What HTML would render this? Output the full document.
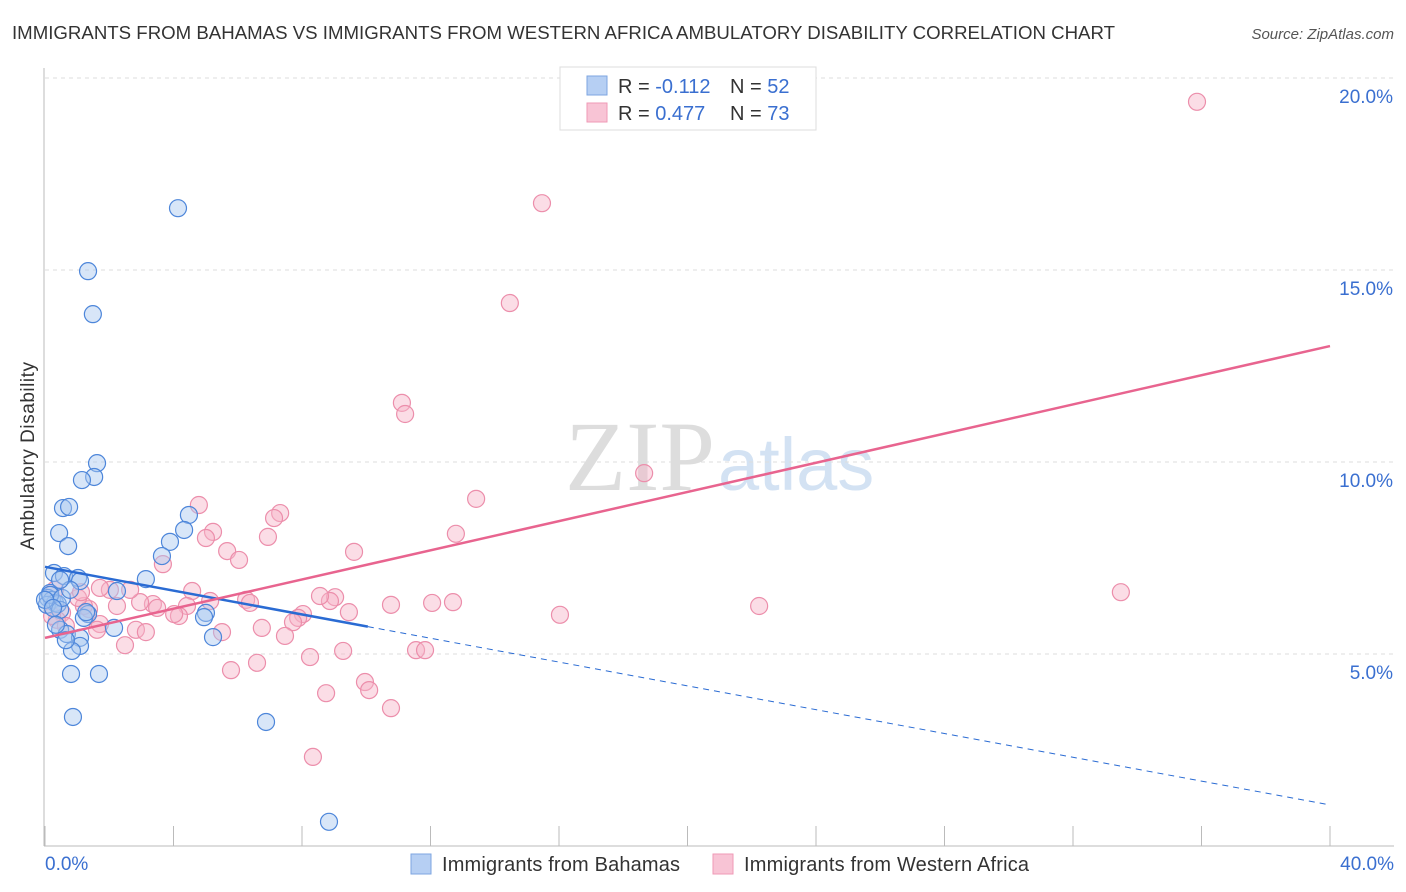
<!DOCTYPE html>
<html><head><meta charset="utf-8"><style>
body{margin:0;background:#fff;font-family:"Liberation Sans",sans-serif}
svg{display:block}
</style></head><body>
<svg id="chart" width="1406" height="892" xmlns="http://www.w3.org/2000/svg">
<text x="12" y="39" font-size="18" fill="#333" textLength="1103" lengthAdjust="spacingAndGlyphs">IMMIGRANTS FROM BAHAMAS VS IMMIGRANTS FROM WESTERN AFRICA AMBULATORY DISABILITY CORRELATION CHART</text>
<text x="1394" y="39" font-size="15" fill="#555" text-anchor="end" font-style="italic">Source: ZipAtlas.com</text>
<text x="34" y="456" font-size="19" fill="#333" text-anchor="middle" textLength="188" transform="rotate(-90 34 456)">Ambulatory Disability</text>
<text x="715" y="490" font-size="100" fill="#ddd" text-anchor="end" font-family="Liberation Serif">ZIP</text>
<text x="718" y="490" font-size="74" fill="#d3e2f3">atlas</text>
<g id="grid"></g><g id="axes"></g><g id="pts"></g><g id="lines"></g>
<g>
<rect x="560" y="67" width="256" height="63" fill="#fff" stroke="#ddd"/>
<rect x="587" y="76" width="20" height="19" fill="#b6cff3" stroke="#7ea6e0"/>
<rect x="587" y="103" width="20" height="19" fill="#f8c4d5" stroke="#ef9ab6"/>
<text x="618" y="93" font-size="20" fill="#333">R = <tspan fill="#3a6fd0">-0.112</tspan><tspan x="730">N = </tspan><tspan fill="#3a6fd0">52</tspan></text>
<text x="618" y="120" font-size="20" fill="#333">R = <tspan fill="#3a6fd0">0.477</tspan><tspan x="730">N = </tspan><tspan fill="#3a6fd0">73</tspan></text>
</g>
<g>
<rect x="411" y="854" width="20" height="20" fill="#b6cff3" stroke="#7ea6e0"/>
<text x="442" y="871" font-size="20" fill="#333" textLength="238">Immigrants from Bahamas</text>
<rect x="713" y="854" width="20" height="20" fill="#f8c4d5" stroke="#ef9ab6"/>
<text x="744" y="871" font-size="20" fill="#333" textLength="285">Immigrants from Western Africa</text>
</g>
</svg>
<script>
const xTicks=[0,4,8,12,16,20,24,28,32,36,40];
const yTicks=[5,10,15,20];
const bluePx=[[178,208],[88,271],[93,314],[97,463],[94,477],[82,480],[63,508],[69,507],[59,533],[68,546],[189,515],[184,530],[170,542],[162,556],[146,579],[54,573],[64,576],[78,578],[80,581],[50,593],[48,598],[52,600],[55,603],[47,605],[58,604],[60,610],[88,614],[84,618],[117,591],[206,613],[204,617],[114,628],[60,630],[67,634],[80,638],[80,646],[72,651],[213,637],[71,674],[99,674],[73,717],[266,722],[329,822],[56,625],[86,612],[50,595],[62,598],[45,600],[53,608],[70,590],[60,580],[66,640]];
const pinkPx=[[1197,102],[542,203],[510,303],[402,403],[405,414],[644,473],[476,499],[456,534],[199,505],[213,532],[206,538],[280,513],[274,518],[268,537],[227,551],[239,560],[354,552],[163,564],[1121,592],[759,606],[560,615],[432,603],[453,602],[391,605],[349,612],[335,597],[330,601],[320,596],[303,614],[298,618],[293,622],[285,636],[262,628],[246,600],[250,603],[210,601],[192,591],[187,606],[179,616],[174,614],[153,604],[157,608],[140,602],[130,590],[117,606],[110,590],[100,588],[89,609],[84,606],[78,598],[81,592],[62,613],[57,620],[52,616],[100,624],[97,630],[136,630],[146,632],[125,645],[222,632],[257,663],[231,670],[310,657],[343,651],[416,650],[425,650],[365,682],[369,690],[326,693],[391,708],[313,757],[55,590],[66,626]];
const blueX=bluePx.map(p=>+((p[0]-45)/32.125).toFixed(2));
const blueY=bluePx.map(p=>+((846-p[1])/38.4).toFixed(2));
const pinkX=pinkPx.map(p=>+((p[0]-45)/32.125).toFixed(2));
const pinkY=pinkPx.map(p=>+((846-p[1])/38.4).toFixed(2));
const blueTrend=[7.27,1.07]; const blueSolidEnd=10.05;
const pinkTrend=[5.42,13.02];
const X=v=>45+v*32.125, Y=v=>846-v*38.4;
const NS='http://www.w3.org/2000/svg';
function mk(tag,attrs,parent){const e=document.createElementNS(NS,tag);for(const k in attrs)e.setAttribute(k,attrs[k]);parent.appendChild(e);return e;}
const grid=document.getElementById('grid'),axes=document.getElementById('axes'),pts=document.getElementById('pts'),lines=document.getElementById('lines');
yTicks.forEach(t=>{
const l=mk('line',{x1:45,x2:1394,y1:Y(t),y2:Y(t),stroke:'#ddd','stroke-dasharray':'4,4'},grid);


const tx=mk('text',{x:1393,y:Y(t)+25,'font-size':19,fill:'#3a6fd0','text-anchor':'end'},axes);
tx.textContent=t.toFixed(1)+'%';


});
const ax=mk('line',{x1:44,x2:44,y1:68,y2:846,stroke:'#bbb'},axes);


const bx=mk('line',{x1:44,x2:1394,y1:846,y2:846,stroke:'#bbb'},axes);


xTicks.forEach(t=>{
const l=mk('line',{x1:X(t),x2:X(t),y1:826,y2:846,stroke:'#bbb'},axes);


});
[[0,'start',45],[40,'end',1394]].forEach(([t,a,x])=>{
const tx=mk('text',{x:x,y:870,'font-size':19,fill:'#3a6fd0','text-anchor':a},axes);
tx.textContent=t.toFixed(1)+'%';


});
function dots(xs,ys,fill,stroke,name){xs.forEach((x,i)=>{
const c=mk('circle',{cx:X(x),cy:Y(ys[i]),r:8.5,fill:fill,'fill-opacity':0.45,stroke:stroke,'stroke-width':1.2},pts);


});}
dots(pinkX,pinkY,'#f6b3c8','#ec8eab','point-western-africa');
dots(blueX,blueY,'#a9c8f0','#4d86da','point-bahamas');
const by=x=>blueTrend[0]+(blueTrend[1]-blueTrend[0])*x/40;
const b1=mk('line',{x1:X(0),y1:Y(by(0)),x2:X(blueSolidEnd),y2:Y(by(blueSolidEnd)),stroke:'#2a6bd3','stroke-width':2.5},lines);


const b2=mk('line',{x1:X(blueSolidEnd),y1:Y(by(blueSolidEnd)),x2:X(40),y2:Y(by(40)),stroke:'#2a6bd3','stroke-width':1,'stroke-dasharray':'6,5'},lines);


const p1=mk('line',{x1:X(0),y1:Y(pinkTrend[0]),x2:X(40),y2:Y(pinkTrend[1]),stroke:'#e8648f','stroke-width':2.5},lines);


</script>
</body></html>
